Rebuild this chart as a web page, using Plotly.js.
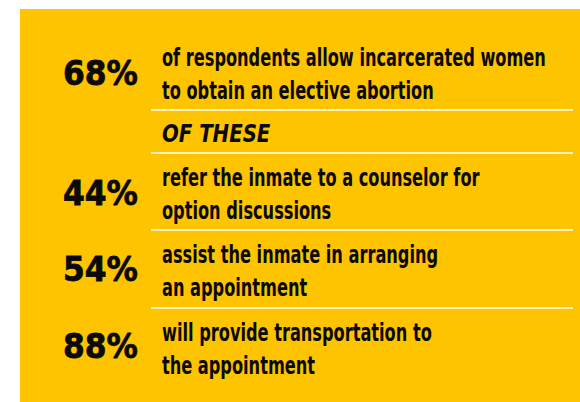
<!DOCTYPE html>
<html>
<head>
<meta charset="utf-8">
<script src="https://cdn.plot.ly/plotly-3.0.1.min.js"></script>
<style>html,body{margin:0;padding:0;background:#fff;}#chart{width:580px;height:402px;}</style>
</head>
<body>
<div id="chart"></div>
<script>
// ---- data ----
const percentages = [68, 44, 54, 88];
const descLine1 = [
  "of respondents allow incarcerated women",
  "refer the inmate to a counselor for",
  "assist the inmate in arranging",
  "will provide transportation to"
];
const descLine2 = [
  "to obtain an elective abortion",
  "option discussions",
  "an appointment",
  "the appointment"
];
const subHeading = ["OF THESE"];

// ---- layout (pixel-like coordinates) ----
const rowCenters = [76.5, 196.5, 273.5, 351.5];
const pctCenters = [77, 197, 273, 350];
const lineOffset = 16.75;
const pctX = 138, textX = 162;
const subY = 136;
const separators = [110, 153, 230, 308];
const descFont = 'DejaVu Sans Condensed, DejaVu Sans, sans-serif';

const pctTrace = {
  type: 'scatter', mode: 'text',
  x: percentages.map(() => pctX),
  y: pctCenters,
  text: percentages.map(v => v + '%'),
  textposition: 'middle left',
  textfont: {family: 'DejaVu Sans', size: 34, color: '#0a0a0a', weight: 'bold'},
  hoverinfo: 'skip', showlegend: false
};
const line1Trace = {
  type: 'scatter', mode: 'text',
  x: descLine1.map(() => textX),
  y: rowCenters.map(c => c - lineOffset),
  text: descLine1,
  textposition: 'middle right',
  textfont: {family: descFont, size: 24, color: '#0a0a0a', weight: 'bold'},
  hoverinfo: 'skip', showlegend: false
};
const line2Trace = {
  type: 'scatter', mode: 'text',
  x: descLine2.map(() => textX),
  y: rowCenters.map(c => c + lineOffset),
  text: descLine2,
  textposition: 'middle right',
  textfont: {family: descFont, size: 24, color: '#0a0a0a', weight: 'bold'},
  hoverinfo: 'skip', showlegend: false
};
const subTrace = {
  type: 'scatter', mode: 'text',
  x: [textX], y: [subY],
  text: subHeading,
  textposition: 'middle right',
  textfont: {family: descFont, size: 25, color: '#0a0a0a', weight: 'bold', style: 'italic'},
  hoverinfo: 'skip', showlegend: false
};

const shapes = [{
  type: 'rect', xref: 'x', yref: 'y', x0: 20, x1: 580, y0: 9, y1: 402,
  fillcolor: '#FEC400', line: {width: 0}, layer: 'below'
}].concat(separators.map(y => ({
  type: 'line', xref: 'x', yref: 'y', x0: 151, x1: 573, y0: y, y1: y,
  line: {color: '#ffffff', width: 1.6}, layer: 'below'
})));

const layout = {
  width: 580, height: 402,
  margin: {l: 0, r: 0, t: 0, b: 0},
  paper_bgcolor: '#ffffff', plot_bgcolor: 'rgba(0,0,0,0)',
  xaxis: {range: [0, 580], visible: false, fixedrange: true},
  yaxis: {range: [402, 0], visible: false, fixedrange: true},
  shapes: shapes
};

function condense(textEls, scale, anchorRight) {
  textEls.forEach(t => {
    const b = t.getBBox();
    const x = anchorRight ? b.x + b.width : b.x;
    t.setAttribute('transform', `translate(${x},0) scale(${scale},1) translate(${-x},0)`);
  });
}

Plotly.newPlot('chart', [pctTrace, line1Trace, line2Trace, subTrace], layout, {displayModeBar: false, staticPlot: true}).then(() => {
  // condense text horizontally to mimic the condensed display faces of the original
  const traces = document.querySelectorAll('#chart .scatterlayer .trace');
  const pctTexts = traces[0].querySelectorAll('text');
  const pctScale = Math.min(1, 75 / pctTexts[0].getBBox().width);
  condense(pctTexts, pctScale, true);
  pctTexts.forEach(t => { t.style.stroke = '#0a0a0a'; t.style.strokeWidth = '0.8px'; });

  const first = traces[1].querySelector('text');
  const s = Math.min(1, 384 / first.getBBox().width);
  condense(traces[1].querySelectorAll('text'), s, false);
  condense(traces[2].querySelectorAll('text'), s, false);

  const sub = traces[3].querySelectorAll('text');
  const ss = Math.min(1, 109 / sub[0].getBBox().width);
  condense(sub, ss, false);
});
</script>
</body>
</html>
